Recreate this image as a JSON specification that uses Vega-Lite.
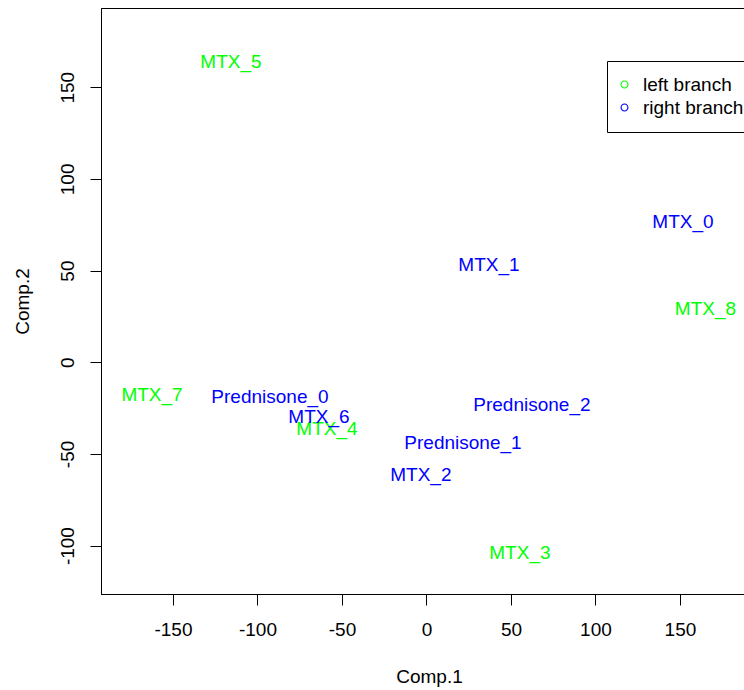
{
  "$schema": "https://vega.github.io/schema/vega-lite/v6.json",
  "width": 656,
  "height": 586,
  "autosize": {"type": "none"},
  "padding": {"left": 101, "top": 8, "right": 0, "bottom": 96},
  "background": "white",
  "config": {
    "font": "Liberation Sans",
    "view": {"stroke": "black", "strokeWidth": 1},
    "axis": {
      "grid": false,
      "domainColor": "black",
      "tickColor": "black",
      "tickSize": 11,
      "labelFont": "Liberation Sans",
      "labelFontSize": 19,
      "labelColor": "black",
      "labelExpr": "toString(datum.value)",
      "titleFont": "Liberation Sans",
      "titleFontSize": 19,
      "titleFontWeight": "normal",
      "titleColor": "black"
    }
  },
  "data": {
    "values": [
      {"label": "MTX_5", "x": -115.7, "y": 163.7, "branch": "left branch"},
      {"label": "MTX_0", "x": 151.8, "y": 76.5, "branch": "right branch"},
      {"label": "MTX_1", "x": 37.0, "y": 53.0, "branch": "right branch"},
      {"label": "MTX_8", "x": 165.1, "y": 29.0, "branch": "left branch"},
      {"label": "MTX_7", "x": -162.4, "y": -17.8, "branch": "left branch"},
      {"label": "Prednisone_0", "x": -92.6, "y": -18.8, "branch": "right branch"},
      {"label": "MTX_4", "x": -58.9, "y": -36.4, "branch": "left branch"},
      {"label": "MTX_6", "x": -63.6, "y": -29.8, "branch": "right branch"},
      {"label": "Prednisone_2", "x": 62.4, "y": -23.3, "branch": "right branch"},
      {"label": "Prednisone_1", "x": 21.6, "y": -44.0, "branch": "right branch"},
      {"label": "MTX_2", "x": -3.3, "y": -61.4, "branch": "right branch"},
      {"label": "MTX_3", "x": 55.3, "y": -104.0, "branch": "left branch"}
    ]
  },
  "mark": {"type": "text", "font": "Liberation Sans", "fontSize": 19, "align": "center", "baseline": "middle"},
  "encoding": {
    "x": {
      "field": "x", "type": "quantitative",
      "scale": {"domain": [-192.6, 195.6], "nice": false, "zero": false},
      "axis": {
        "title": "Comp.1",
        "values": [-150, -100, -50, 0, 50, 100, 150],
        "labelPadding": 15,
        "titleY": 88,
        "titleBaseline": "alphabetic"
      }
    },
    "y": {
      "field": "y", "type": "quantitative",
      "scale": {"domain": [-126.4, 193.2], "nice": false, "zero": false},
      "axis": {
        "title": "Comp.2",
        "values": [-100, -50, 0, 50, 100, 150],
        "labelAngle": 270,
        "labelAlign": "center",
        "labelBaseline": "alphabetic",
        "labelPadding": 17,
        "titleAngle": 270,
        "titleX": -72.5,
        "titleBaseline": "alphabetic"
      }
    },
    "text": {"field": "label"},
    "color": {
      "field": "branch", "type": "nominal",
      "scale": {"domain": ["left branch", "right branch"], "range": ["#00FF00", "#0000FF"]},
      "legend": {
        "title": null,
        "orient": "none",
        "legendX": 506,
        "legendY": 53,
        "strokeColor": "black",
        "fillColor": "white",
        "padding": 14,
        "symbolType": "M-1,0A1,1 0 1,0 1,0A1,1 0 1,0 -1,0ZM-0.72,0A0.72,0.72 0 1,1 0.72,0A0.72,0.72 0 1,1 -0.72,0Z",
        "symbolSize": 64,
        "symbolStrokeWidth": 0,
        "symbolOffset": -6,
        "labelFont": "Liberation Sans",
        "labelFontSize": 19,
        "labelColor": "black",
        "labelOffset": 9,
        "rowPadding": 3
      }
    }
  }
}
